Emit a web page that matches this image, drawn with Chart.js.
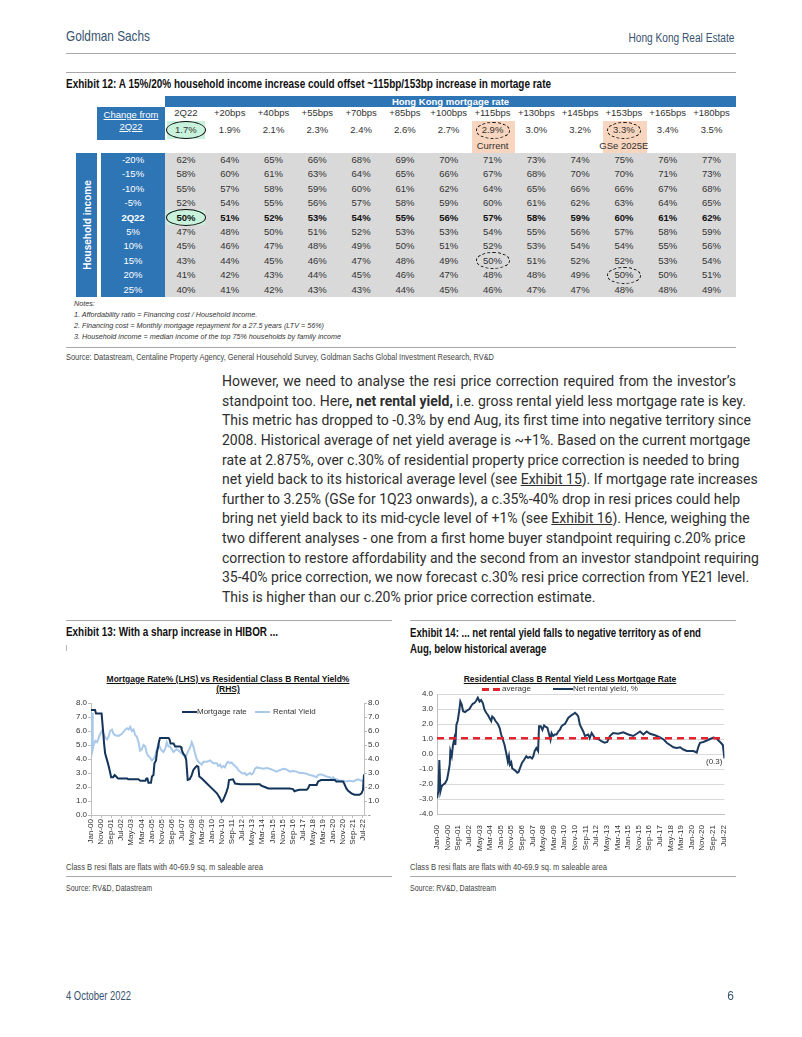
<!DOCTYPE html>
<html>
<head>
<meta charset="utf-8">
<script src="https://cdn.jsdelivr.net/npm/chart.js@4.4.0/dist/chart.umd.min.js"></script>
<style>
  body { margin: 0; background: #fff; }
  #page { position: relative; width: 802px; height: 1037px; overflow: hidden; font-family: "Liberation Sans", Arial, sans-serif; color: #222; }
  .t { position: absolute; white-space: nowrap; }
  .cond { font-family: "Liberation Sans", Arial, sans-serif; }
  .rule { position: absolute; height: 0; border-top: 1px solid #a8a8a8; }
  .para { position: absolute; left: 222px; top: 372px; width: 514px; font-family: Roboto, sans-serif; font-size: 14px; color: #2e2e2e; }
  .para div { height: 19.65px; line-height: 19.65px; text-align: justify; text-align-last: justify; white-space: nowrap; }
  .para div.last { text-align-last: left; }
  .ell { position: absolute; border-radius: 50%; box-sizing: border-box; }
  .cell { position: absolute; text-align: center; font-size: 9.5px; line-height: 14px; color: #333; white-space: nowrap; }
  .note { position: absolute; left: 74px; font-size: 7.2px; line-height: 10px; font-style: italic; color: #333; white-space: nowrap; }
</style>
</head>
<body>
<div id="page">
  <!-- page header -->
  <div class="t cond" data-w="84" style="left:66px;top:27px;font-size:14.5px;line-height:18px;color:#37536f;">Goldman Sachs</div>
  <div class="t cond" data-w="106" style="right:68px;top:30px;font-size:12px;line-height:16px;color:#37536f;">Hong Kong Real Estate</div>
  <div class="rule" style="left:66px;width:670px;top:53px;"></div>

  <!-- exhibit 12 -->
  <div class="rule" style="left:66px;width:670px;top:72px;"></div>
  <div class="t cond" data-w="485" style="left:66px;top:77px;font-size:12.5px;line-height:15px;font-weight:bold;color:#111;">Exhibit 12: A 15%/20% household income increase could offset ~115bp/153bp increase in mortage rate</div>
  <div id="table"></div>
  <div class="note" style="top:299px;">Notes:</div>
  <div class="note" style="top:310px;">1. Affordability ratio = Financing cost / Household income.</div>
  <div class="note" style="top:321px;">2. Financing cost = Monthly mortgage repayment for a 27.5 years (LTV = 56%)</div>
  <div class="note" style="top:332px;">3. Household income = median income of the top 75% households by family income</div>
  <div class="rule" style="left:66px;width:670px;top:347px;"></div>
  <div class="t cond" data-w="428" style="left:66px;top:351px;font-size:9.5px;line-height:12px;color:#444;">Source: Datastream, Centaline Property Agency, General Household Survey, Goldman Sachs Global Investment Research, RV&amp;D</div>

  <!-- body text -->
  <div class="para">
    <div>However, we need to analyse the resi price correction required from the investor’s</div>
    <div>standpoint too. Here<b>, net rental yield,</b> i.e. gross rental yield less mortgage rate is key.</div>
    <div>This metric has dropped to -0.3% by end Aug, its first time into negative territory since</div>
    <div>2008. Historical average of net yield average is ~+1%. Based on the current mortgage</div>
    <div>rate at 2.875%, over c.30% of residential property price correction is needed to bring</div>
    <div>net yield back to its historical average level (see <u>Exhibit 15</u>). If mortgage rate increases</div>
    <div>further to 3.25% (GSe for 1Q23 onwards), a c.35%-40% drop in resi prices could help</div>
    <div>bring net yield back to its mid-cycle level of +1% (see <u>Exhibit 16</u>). Hence, weighing the</div>
    <div>two different analyses - one from a first home buyer standpoint requiring c.20% price</div>
    <div>correction to restore affordability and the second from an investor standpoint requiring</div>
    <div>35-40% price correction, we now forecast c.30% resi price correction from YE21 level.</div>
    <div class="last">This is higher than our c.20% prior price correction estimate.</div>
  </div>

  <!-- exhibit 13 / 14 titles -->
  <div class="rule" style="left:66px;width:326px;top:620px;"></div>
  <div class="rule" style="left:410px;width:326px;top:620px;"></div>
  <div class="t cond" data-w="212" style="left:66px;top:625px;font-size:12.5px;line-height:15px;font-weight:bold;color:#111;">Exhibit 13: With a sharp increase in HIBOR ...</div>
  <div class="t cond" data-w="291" style="left:410px;top:625px;font-size:12.5px;line-height:16px;font-weight:bold;color:#111;">Exhibit 14: ... net rental yield falls to negative territory as of end<br>Aug, below historical average</div>
  <div style="position:absolute;left:66px;top:645px;width:0;height:6px;border-left:1px solid #bbb;"></div>

  <!-- chart 13 -->
  <div class="t" style="left:228px;top:674px;transform:translateX(-50%);text-align:center;font-size:8.5px;line-height:10px;font-weight:bold;text-decoration:underline;color:#111;">Mortgage Rate% (LHS) vs Residential Class B Rental Yield%<br>(RHS)</div>
  <div style="position:absolute;left:66px;top:668px;width:326px;height:190px;"><canvas id="c1" width="326" height="190"></canvas></div>
  <div style="position:absolute;left:182px;top:711px;width:15px;border-top:2px solid #12335a;"></div>
  <div class="t" style="left:197px;top:707px;font-size:8px;line-height:10px;color:#333;">Mortgage rate</div>
  <div style="position:absolute;left:255px;top:711px;width:15px;border-top:2px solid #a9c9ea;"></div>
  <div class="t" style="left:273px;top:707px;font-size:8px;line-height:10px;color:#333;">Rental Yield</div>

  <!-- chart 14 -->
  <div class="t" style="left:570px;top:674px;transform:translateX(-50%);font-size:8.5px;line-height:10px;font-weight:bold;text-decoration:underline;color:#111;">Residential Class B Rental Yield Less Mortgage Rate</div>
  <div style="position:absolute;left:410px;top:668px;width:326px;height:190px;"><canvas id="c2" width="326" height="190"></canvas></div>
  <div style="position:absolute;left:482px;top:688px;width:18px;height:2.5px;background:repeating-linear-gradient(90deg,#e3262d 0 7px,transparent 7px 11px);"></div>
  <div class="t" style="left:502px;top:684px;font-size:8px;line-height:10px;color:#333;">average</div>
  <div style="position:absolute;left:553px;top:688px;width:20px;border-top:2px solid #1b3a5e;"></div>
  <div class="t" style="left:573px;top:684px;font-size:8px;line-height:10px;color:#333;">Net rental yield, %</div>
  <div id="lastLabel" class="t" style="font-size:8px;line-height:10px;color:#333;"></div>

  <!-- chart notes -->
  <div class="t cond" data-w="197" style="left:66px;top:861px;font-size:9.5px;line-height:12px;color:#444;">Class B resi flats are flats with 40-69.9 sq. m saleable area</div>
  <div class="rule" style="left:66px;width:326px;top:876px;"></div>
  <div class="t cond" data-w="86" style="left:66px;top:882px;font-size:9.5px;line-height:12px;color:#444;">Source: RV&amp;D, Datastream</div>
  <div class="t cond" data-w="197" style="left:410px;top:861px;font-size:9.5px;line-height:12px;color:#444;">Class B resi flats are flats with 40-69.9 sq. m saleable area</div>
  <div class="rule" style="left:410px;width:326px;top:876px;"></div>
  <div class="t cond" data-w="86" style="left:410px;top:882px;font-size:9.5px;line-height:12px;color:#444;">Source: RV&amp;D, Datastream</div>

  <!-- footer -->
  <div class="t cond" data-w="65" style="left:66px;top:989px;font-size:12px;line-height:15px;color:#37536f;">4 October 2022</div>
  <div class="t cond" style="right:68px;top:989px;font-size:12px;line-height:15px;color:#37536f;">6</div>
</div>

<script>
// ---- Exhibit 12 table data ----
const rateSteps = ['2Q22','+20bps','+40bps','+55bps','+70bps','+85bps','+100bps','+115bps','+130bps','+145bps','+153bps','+165bps','+180bps'];
const mortgageRates = ['1.7%','1.9%','2.1%','2.3%','2.4%','2.6%','2.7%','2.9%','3.0%','3.2%','3.3%','3.4%','3.5%'];
const incomeSteps = ['-20%','-15%','-10%','-5%','2Q22','5%','10%','15%','20%','25%'];
const affordability = [
  [62,64,65,66,68,69,70,71,73,74,75,76,77],
  [58,60,61,63,64,65,66,67,68,70,70,71,73],
  [55,57,58,59,60,61,62,64,65,66,66,67,68],
  [52,54,55,56,57,58,59,60,61,62,63,64,65],
  [50,51,52,53,54,55,56,57,58,59,60,61,62],
  [47,48,50,51,52,53,53,54,55,56,57,58,59],
  [45,46,47,48,49,50,51,52,53,54,54,55,56],
  [43,44,45,46,47,48,49,50,51,52,52,53,54],
  [41,42,43,44,45,46,47,48,48,49,50,50,51],
  [40,41,42,43,43,44,45,46,47,47,48,48,49]
];

// ---- chart data: [month index from Jan-00, value %] ----
const tickLabels = ['Jan-00','Nov-00','Sep-01','Jul-02','May-03','Mar-04','Jan-05','Nov-05','Sep-06','Jul-07','May-08','Mar-09','Jan-10','Nov-10','Sep-11','Jul-12','May-13','Mar-14','Jan-15','Nov-15','Sep-16','Jul-17','May-18','Mar-19','Jan-20','Nov-20','Sep-21','Jul-22'];

const mortgageRate = [[0,7.5],[4,7.5],[5,7.25],[10.5,7.25],[12,6.0],[13,5.1],[14,4.4],[16,3.9],[17.5,3.5],[18.5,3.2],[20,2.7],[22,2.7],[23.5,2.85],[25,2.75],[27,2.6],[36,2.6],[37,2.55],[47,2.55],[49,2.45],[54,2.45],[55,2.6],[56,2.6],[57,2.3],[59.5,2.3],[60.5,2.75],[62,2.85],[63,3.7],[64.5,3.9],[65.5,4.5],[66.5,4.8],[67.5,5.25],[68.5,5.5],[77,5.5],[78,5.4],[79,5.1],[82,5.1],[83.5,4.9],[88.5,4.9],[89.5,4.85],[90,4.65],[91.5,4.4],[93.5,4.2],[94.5,3.95],[96,2.5],[98,2.55],[100,2.85],[101.5,3.2],[103,3.35],[105,3.5],[106.5,3.45],[107.5,2.75],[110,2.6],[115,2.25],[120,1.9],[125,1.55],[128,1.2],[129.5,0.95],[131,1.05],[132.5,1.3],[134.5,1.65],[136,2.0],[137,2.5],[141,2.55],[143,2.25],[148,2.2],[167.5,2.2],[169,2.1],[172.5,2.0],[176,1.9],[197,1.9],[200.5,1.85],[202,1.7],[204,1.75],[207,1.8],[214,1.8],[215.5,1.9],[217,2.15],[224,2.15],[225.5,2.4],[228.5,2.5],[242,2.5],[243.5,2.4],[250,2.4],[251,2.3],[253.5,1.9],[255,1.75],[258.5,1.55],[261.5,1.45],[266.5,1.45],[268.5,1.55],[270,1.8],[271,2.9]];

const rentalYield = [[0,4.7],[1,7.3],[1.7,4.7],[2.6,5.0],[4.3,5.3],[6,5.2],[7.6,5.5],[9.2,5.8],[10.9,6.0],[12.5,5.8],[14.2,5.5],[15.8,5.4],[17.5,5.6],[19.1,6.0],[20.8,6.1],[22.4,5.8],[24.1,5.7],[27.4,5.65],[30.7,5.8],[34,6.1],[35.6,6.2],[37.3,6.1],[38.9,6.3],[40.6,6.0],[42.2,6.1],[43.9,5.7],[45.5,5.6],[47.2,5.2],[48.8,4.6],[50.5,4.7],[52.1,5.0],[53.8,4.9],[55.4,4.4],[57.1,4.2],[58.7,4.1],[60.4,3.9],[62,4.0],[63.7,4.2],[65.3,4.7],[67,5.1],[68.6,4.8],[70.3,4.6],[71.9,4.5],[73.6,4.7],[75.2,5.2],[76.9,4.9],[78.5,4.9],[80.2,4.7],[81.8,4.5],[83.5,4.6],[85.1,4.7],[86.8,4.6],[88.4,4.5],[90.1,4.4],[91.7,4.3],[93.4,4.1],[95,4.3],[96.7,4.6],[98.3,4.8],[100,5.2],[101.6,4.9],[103.3,4.4],[104.9,4.0],[106.6,3.8],[108.3,3.7],[109.9,3.6],[111.6,3.8],[114.9,3.8],[118.2,3.9],[121.5,3.7],[124.8,3.7],[126.4,3.5],[128,3.6],[129.7,3.4],[131.4,3.5],[133,3.4],[134.7,3.7],[136.3,3.8],[138,3.7],[139.6,3.75],[141.3,3.6],[142.9,3.5],[144.6,3.4],[146.2,3.2],[147.9,3.1],[149.5,3.0],[151.2,2.95],[152.8,3.0],[154.5,2.85],[157.8,3.0],[159.4,2.9],[161.1,3.0],[162.7,3.3],[164.4,3.4],[167.7,3.35],[171,3.3],[174.3,3.35],[177.6,3.3],[180.9,3.2],[184.2,3.1],[187.5,3.2],[190.8,3.3],[194.1,3.25],[197.4,3.1],[200.7,3.15],[204,3.1],[207.3,3.0],[210.6,3.0],[213.9,2.95],[217.2,2.85],[220.5,2.8],[223.8,2.7],[225.4,2.85],[227.1,2.9],[228.7,2.9],[230.4,2.85],[233.7,2.75],[237,2.7],[238.6,2.6],[240.3,2.7],[241.9,2.6],[243.6,2.55],[246.9,2.45],[250.2,2.45],[253.5,2.4],[256.8,2.45],[260.1,2.4],[263.4,2.5],[265,2.55],[266.7,2.5],[268.3,2.45],[270,2.4],[271,2.6]];

const netRentalYield = [[0,-2.95],[1.3,-2.5],[2.2,-0.4],[3.2,-2.5],[4.4,-2.15],[5.7,-2.05],[7.6,-1.95],[9.5,-1.7],[10.7,-1.25],[12,-0.7],[12.6,0.2],[13.9,-0.15],[15.1,0.6],[16.4,1.05],[17.3,0.6],[18.3,1.95],[19.5,2.2],[21.1,2.95],[22,3.5],[23.3,3.3],[24.6,2.85],[26.5,2.8],[28.4,2.9],[30.6,3.0],[32.2,3.2],[33.7,3.35],[35.3,3.4],[36.9,3.55],[38.5,3.75],[40.1,3.5],[41.6,3.6],[43.2,3.4],[44.8,2.95],[46.4,2.75],[48,2.6],[49.5,2.4],[51.1,2.2],[52.1,2.5],[53.6,2.4],[55.2,2.2],[57.4,2.0],[59,1.75],[60.5,1.3],[62.1,0.95],[63.7,0.6],[65.3,0.05],[66.8,-0.5],[67.8,-0.15],[68.7,-0.7],[70,-0.55],[70.9,-0.95],[72.5,-1.05],[73.8,-1.1],[75.7,-1.25],[76.9,-1.2],[78.2,-0.95],[80.1,-0.6],[82,-0.4],[84.2,-0.15],[85.8,-0.25],[87.7,-0.2],[89.6,-0.3],[90.8,-0.15],[92.1,0.2],[93.7,0.4],[95.3,0.2],[96.2,1.85],[97.8,1.85],[99.4,1.6],[101,1.9],[102.6,1.8],[104.1,1.75],[105.4,1.4],[107,0.95],[108,1.4],[109.5,1.2],[111.1,1.3],[112.7,1.3],[114.3,1.5],[115.8,1.6],[117.4,1.85],[119,1.95],[120.6,2.0],[122.2,2.2],[123.7,2.4],[125.3,2.5],[126.9,2.6],[128.5,2.65],[130.1,2.75],[131.6,2.65],[133.2,2.5],[134.7,1.95],[137.9,1.5],[139.5,1.2],[142.6,1.3],[144,1.05],[145.8,1.4],[149,1.05],[152,1.0],[155,0.85],[158,0.75],[160.5,0.8],[163,1.2],[166,1.4],[171,1.35],[175.6,1.45],[180.4,1.3],[185,1.2],[188.3,1.35],[191.4,1.5],[194.6,1.3],[197.7,1.5],[200.9,1.35],[205.6,1.25],[210.3,1.1],[214,0.95],[216.6,0.75],[219.7,0.6],[222.9,0.45],[226,0.4],[229.2,0.45],[232.3,0.3],[235.5,0.2],[238.6,0.2],[241.8,0.2],[244.9,0.1],[246.5,0.5],[248,0.75],[251.2,0.8],[254.4,0.9],[257.5,1.0],[260.7,1.1],[263.2,1.05],[265.4,0.9],[267.6,0.75],[269.5,0.6],[271,-0.3]];
const averageYield = 1.05;
const lastLabelText = '(0.3)';

// squeeze the condensed-style texts to the widths they take in the report
document.querySelectorAll('[data-w]').forEach(el => {
  const w = el.getBoundingClientRect().width;
  el.style.transformOrigin = el.style.right ? '100% 0' : '0 0';
  el.style.transform = 'scaleX(' + (+el.dataset.w / w) + ')';
});

// ---- build the table ----
const tbl = document.getElementById('table');
function box(x, y, w, h, css) {
  const d = document.createElement('div');
  d.style.cssText = 'position:absolute;left:' + x + 'px;top:' + y + 'px;width:' + w + 'px;height:' + h + 'px;' + (css || '');
  tbl.appendChild(d);
  return d;
}
function cell(txt, cx, cy, css) {
  const d = document.createElement('div');
  d.className = 'cell';
  d.style.cssText += 'left:' + (cx - 30) + 'px;top:' + (cy - 7) + 'px;width:60px;' + (css || '');
  d.textContent = txt;
  tbl.appendChild(d);
  return d;
}
const colX0 = 165, colW = 43.8, rowY0 = 152.5, rowH = 14.45;
const colC = i => colX0 + colW * i + colW / 2 - 1;
const rowC = j => rowY0 + rowH * j + rowH / 2;

// header
const hb = box(colX0, 96, 736 - colX0, 11, 'background:#2e75b6;color:#fff;font-weight:bold;font-size:9.5px;line-height:11px;text-align:center;');
hb.textContent = 'Hong Kong mortgage rate';
const cf = box(97, 107, colX0 - 97, 33, 'background:#2e75b6;color:#fff;font-size:9.5px;line-height:12px;text-align:center;padding-top:2px;box-sizing:border-box;');
cf.innerHTML = '<u>Change from</u><br><u>2Q22</u>';
// highlights
box(colX0 + 2, 121, colW - 6, 18, 'background:#c8f2dc;');
box(colX0 + colW * 7, 121, colW, 31.5, 'background:#f8d5be;');
box(colX0 + colW * 10, 121, colW, 31.5, 'background:#f8d5be;');
rateSteps.forEach((s, i) => cell(s, colC(i), 113));
mortgageRates.forEach((s, i) => cell(s, colC(i), 130));
cell('Current', colC(7), 146);
cell('GSe 2025E', colC(10), 146);

// body
box(76, rowY0, 21, rowH * 10, 'background:#2e75b6;');
const hi = document.createElement('div');
hi.style.cssText = 'position:absolute;left:86.5px;top:' + (rowY0 + rowH * 5) + 'px;transform:translate(-50%,-50%) rotate(-90deg);color:#fff;font-weight:bold;font-size:10px;white-space:nowrap;';
hi.textContent = 'Household income';
tbl.appendChild(hi);
box(101, rowY0, colX0 - 101, rowH * 10, 'background:#2e75b6;');
box(colX0, rowY0, 736 - colX0, rowH * 10, 'background:#d9d9d9;');
box(colX0 + 2, rowY0 + rowH * 4, colW - 6, rowH, 'background:#c8f2dc;');
incomeSteps.forEach((s, j) => cell(s, 133, rowC(j), 'color:#fff;' + (s === '2Q22' ? 'font-weight:bold;' : '')));
affordability.forEach((row, j) => row.forEach((v, i) =>
  cell(v + '%', colC(i), rowC(j), incomeSteps[j] === '2Q22' ? 'font-weight:bold;color:#111;' : '')));

// circles
function ellipse(cx, cy, w, h, dashed) {
  const d = document.createElement('div');
  d.className = 'ell';
  d.style.cssText += 'left:' + (cx - w / 2) + 'px;top:' + (cy - h / 2) + 'px;width:' + w + 'px;height:' + h + 'px;border:' + (dashed ? '1.2px dashed #111' : '1.6px solid #111') + ';';
  tbl.appendChild(d);
}
ellipse(colC(0), 130, 40, 18, false);
ellipse(colC(0), rowC(4), 40, 17, false);
ellipse(colC(7), 130, 34, 17, true);
ellipse(colC(10), 130, 34, 17, true);
ellipse(colC(7), rowC(7), 34, 17, true);
ellipse(colC(10), rowC(8), 34, 17, true);

// ---- charts ----
Chart.defaults.font.family = '"Liberation Sans", Arial, sans-serif';
Chart.defaults.font.size = 8;
Chart.defaults.color = '#333';
const xy = arr => arr.map(p => ({ x: p[0], y: p[1] }));
const monthTicks = scale => { scale.ticks = tickLabels.map((l, i) => ({ value: i * 10 })); };

new Chart(document.getElementById('c1'), {
  type: 'line',
  data: {
    datasets: [
      { label: 'Mortgage rate', data: xy(mortgageRate), borderColor: '#12335a', borderWidth: 2, pointRadius: 0, yAxisID: 'y' },
      { label: 'Rental Yield', data: xy(rentalYield), borderColor: '#a9c9ea', borderWidth: 2, pointRadius: 0, yAxisID: 'y1' }
    ]
  },
  options: {
    responsive: false, animation: false,
    layout: { padding: { top: 35 } },
    plugins: { legend: { display: false }, tooltip: { enabled: false } },
    scales: {
      x: {
        type: 'linear', min: 0, max: 271,
        afterBuildTicks: monthTicks,
        ticks: { autoSkip: false, minRotation: 90, maxRotation: 90, padding: 1, callback: (v, i) => tickLabels[i] },
        grid: { drawOnChartArea: false, tickLength: 3, color: '#bfbfbf' },
        border: { color: '#bfbfbf' },
        afterFit: s => { s.height = 43; }
      },
      y: {
        min: 0, max: 8,
        ticks: { stepSize: 1, padding: 1, callback: v => v.toFixed(1) },
        grid: { drawOnChartArea: false, tickLength: 3, color: '#bfbfbf' },
        border: { color: '#bfbfbf' },
        afterFit: s => { s.width = 25; }
      },
      y1: {
        position: 'right', min: 0, max: 8,
        ticks: { stepSize: 1, padding: 1, callback: v => v === 0 ? '-' : v.toFixed(1) },
        grid: { drawOnChartArea: false, tickLength: 3, color: '#bfbfbf' },
        border: { color: '#bfbfbf' },
        afterFit: s => { s.width = 28; }
      }
    }
  }
});

const chart2 = new Chart(document.getElementById('c2'), {
  type: 'line',
  data: {
    datasets: [
      { label: 'Net rental yield, %', data: xy(netRentalYield), borderColor: '#1b3a5e', borderWidth: 2, pointRadius: 0, order: 2 },
      { label: 'average', data: [{ x: 0, y: averageYield }, { x: 271, y: averageYield }], borderColor: '#e3262d', borderWidth: 2.5, borderDash: [7, 5], pointRadius: 0, order: 1 }
    ]
  },
  options: {
    responsive: false, animation: false,
    layout: { padding: { top: 26, right: 11 } },
    plugins: { legend: { display: false }, tooltip: { enabled: false } },
    scales: {
      x: {
        type: 'linear', min: 0, max: 271,
        afterBuildTicks: monthTicks,
        ticks: { autoSkip: false, minRotation: 90, maxRotation: 90, padding: 3, callback: (v, i) => tickLabels[i] },
        grid: { display: false },
        border: { color: '#bfbfbf' },
        afterFit: s => { s.height = 44; }
      },
      y: {
        min: -4, max: 4,
        ticks: { stepSize: 1, padding: 4, callback: v => v.toFixed(1) },
        grid: { color: '#d9d9d9', drawTicks: false },
        border: { color: '#bfbfbf' },
        afterFit: s => { s.width = 27; }
      }
    }
  }
});

// place the end-of-line value label next to the last point
const lastPt = chart2.getDatasetMeta(0).data.slice(-1)[0];
const lbl = document.getElementById('lastLabel');
lbl.textContent = lastLabelText;
lbl.style.right = (802 - (410 + lastPt.x - 2)) + 'px';
lbl.style.top = (668 + lastPt.y - 2) + 'px';
</script>
</body>
</html>
